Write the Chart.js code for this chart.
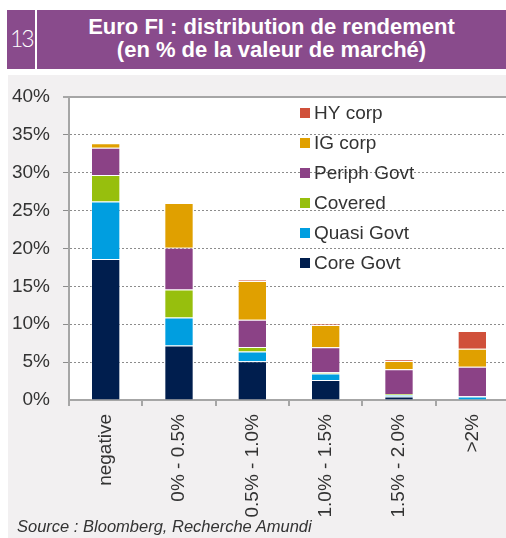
<!DOCTYPE html>
<html>
<head>
<meta charset="utf-8">
<script src="https://cdn.jsdelivr.net/npm/chart.js@4.4.1/dist/chart.umd.min.js"></script>
<style>
  html, body { margin: 0; padding: 0; background: #ffffff; width: 506px; height: 538px; overflow: hidden; position: relative; font-family: "Liberation Sans", Arial, sans-serif; }
  #band { position: absolute; left: 7px; top: 10px; width: 499px; height: 59px; background: #894b8c; }
  #num { position: absolute; left: 10px; top: 27px; font-family: Lato, "Open Sans", sans-serif; font-weight: 300; font-size: 23px; line-height: 23px; color: #ffffff; letter-spacing: -2px; }
  #vline { position: absolute; left: 35px; top: 10px; width: 2px; height: 59px; background: #ffffff; }
  .tl { position: absolute; left: 37px; width: 469px; text-align: center; color: #ffffff; font-weight: bold; font-size: 22px; line-height: 22px; white-space: nowrap; }
  #panel { position: absolute; left: 8px; top: 75px; width: 498px; height: 463px; background: #f2f0f1; }
  #source { position: absolute; left: 17px; top: 518px; font-style: italic; font-size: 16.5px; line-height: 16.5px; color: #333333; white-space: nowrap; }
  #chart { position: absolute; left: 0; top: 0; }
</style>
</head>
<body>
<div id="band"></div>
<div id="num">13</div>
<div id="vline"></div>
<div class="tl" style="top:16px;">Euro FI : distribution de rendement</div>
<div class="tl" style="top:39px;">(en % de la valeur de marché)</div>
<div id="panel"></div>
<canvas id="chart" width="512" height="538"></canvas>
<div id="source">Source : Bloomberg, Recherche Amundi</div>
<script>
// ---- data ----
const categories = ["negative", "0% - 0.5%", "0.5% - 1.0%", "1.0% - 1.5%", "1.5% - 2.0%", ">2%"];
const coreGovt   = [18.6, 7.2, 5.1, 2.65, 0.45, 0.05];
const quasiGovt  = [7.6, 3.7, 1.3, 0.85, 0.2, 0.4];
const covered    = [3.5, 3.7, 0.6, 0.15, 0.15, 0.05];
const periphGovt = [3.6, 5.5, 3.6, 3.3, 3.25, 3.9];
const igCorp     = [0.6, 5.9, 5.1, 2.95, 1.1, 2.37];
const hyCorp     = [0.0, 0.0, 0.15, 0.15, 0.2, 2.33];
const yTicks     = [0, 5, 10, 15, 20, 25, 30, 35, 40];

const seriesNames  = ["Core Govt", "Quasi Govt", "Covered", "Periph Govt", "IG corp", "HY corp"];
const seriesColors = ["#001e4e", "#009ee0", "#97bf0d", "#8b4286", "#e0a000", "#d0503a"];
const seriesData   = [coreGovt, quasiGovt, covered, periphGovt, igCorp, hyCorp];

const FONT = "'Liberation Sans', Arial, sans-serif";
const AXIS = "#a6a6a6";

const bgPlugin = {
  id: "bg",
  beforeDraw(chart) {
    const { ctx, chartArea: a } = chart;
    ctx.save();
    ctx.fillStyle = "#ffffff";
    ctx.fillRect(a.left, a.top, a.right - a.left, a.bottom - a.top);
    ctx.restore();
  },
  afterDraw(chart) {
    const { ctx, chartArea: a } = chart;
    const y = chart.scales.y.getPixelForValue(40);
    ctx.save();
    ctx.strokeStyle = AXIS;
    ctx.lineWidth = 2;
    ctx.beginPath();
    ctx.moveTo(a.left - 6, y);
    ctx.lineTo(chart.width, y);
    ctx.stroke();
    ctx.restore();
  }
};

const legendPlugin = {
  id: "insideLegend",
  afterDatasetsDraw(chart) {
    const { ctx } = chart;
    const ds = chart.data.datasets.slice().reverse();
    const x0 = 300, y0 = 113, step = 30;
    ctx.save();
    ctx.font = "19px " + FONT;
    ctx.textBaseline = "middle";
    ctx.textAlign = "left";
    ds.forEach((d, i) => {
      const y = y0 + i * step;
      ctx.fillStyle = d.backgroundColor;
      ctx.fillRect(x0, y - 5, 10, 10);
      ctx.fillStyle = "#333333";
      ctx.fillText(d.label, x0 + 14, y + 1);
    });
    ctx.restore();
  }
};

new Chart(document.getElementById("chart"), {
  type: "bar",
  data: {
    labels: categories,
    datasets: seriesNames.map((n, i) => ({
      label: n,
      data: seriesData[i],
      backgroundColor: seriesColors[i],
      borderColor: "rgba(255,255,255,0.35)",
      borderWidth: 1,
      barPercentage: 0.4,
      categoryPercentage: 1.0
    }))
  },
  options: {
    responsive: false,
    animation: false,
    devicePixelRatio: 1,
    layout: { padding: { top: 97, left: 0, right: 3, bottom: 8 } },
    plugins: { legend: { display: false }, tooltip: { enabled: false } },
    scales: {
      x: {
        stacked: true,
        offset: true,
        afterFit(s) { s.height = 130; },
        grid: { offset: true, drawOnChartArea: false, drawTicks: true, tickLength: 6, color: AXIS, lineWidth: 2 },
        border: { display: true, color: AXIS, width: 2 },
        ticks: { minRotation: 90, maxRotation: 90, padding: 8, color: "#333333", font: { family: FONT, size: 19 } }
      },
      y: {
        stacked: true,
        min: 0, max: 40,
        afterFit(s) { s.width = 69; },
        afterBuildTicks(s) { s.ticks = yTicks.map(v => ({ value: v })); },
        grid: {
          color: (c) => (c.tick && (c.tick.value === 0 || c.tick.value === 40)) ? "rgba(0,0,0,0)" : "#8c8c8c",
          lineWidth: 1, drawTicks: true, tickLength: 6
        },
        border: { display: true, color: AXIS, width: 2, dash: [2, 2] },
        ticks: { padding: 13, color: "#333333", font: { family: FONT, size: 19 }, callback: (v) => v + "%" }
      }
    }
  },
  plugins: [bgPlugin, legendPlugin]
});
</script>
</body>
</html>
